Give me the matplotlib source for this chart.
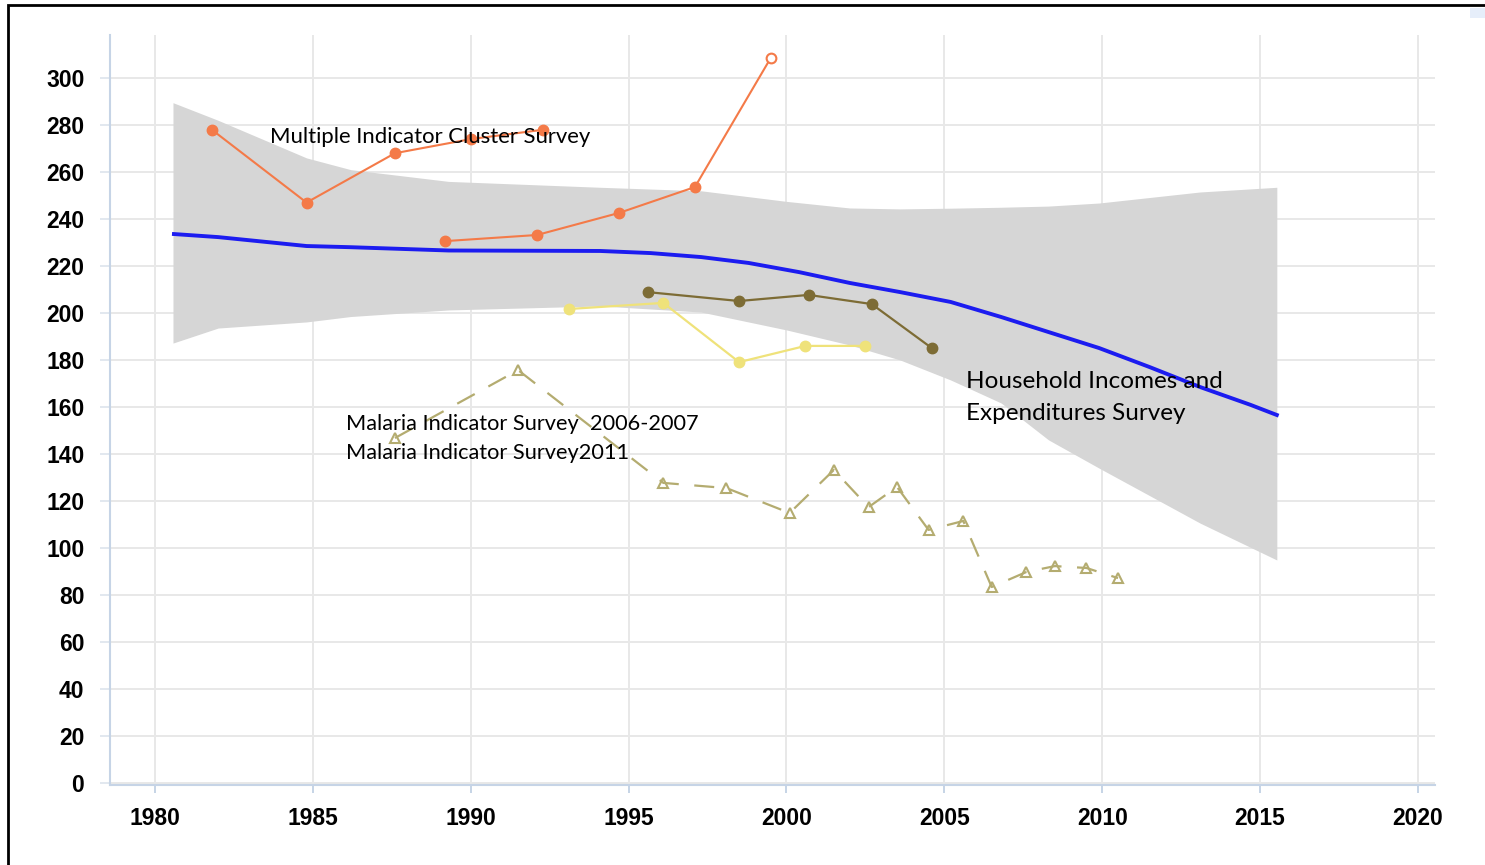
import numpy as np
import matplotlib
matplotlib.use('Agg')
import matplotlib.pyplot as plt
from matplotlib.patches import Rectangle

# ---- data ----
mics_a_years = [1981.8, 1984.8, 1987.6, 1990.0, 1992.3]
mics_a_vals = [278, 247, 268, 274, 278]
mics_b_years = [1989.2, 1992.1, 1994.7, 1997.1]
mics_b_vals = [230.6, 233.2, 242.6, 253.6]
mics_open_year = 1999.5
mics_open_val = 308.5

hies_years = [1995.6, 1998.5, 2000.7, 2002.7, 2004.6]
hies_vals = [208.9, 205.1, 207.7, 203.8, 185.1]

yellow_years = [1993.1, 1996.1, 1998.5, 2000.6, 2002.5]
yellow_vals = [201.7, 204.3, 179.1, 186.0, 186.0]

dash_years = [1987.6, 1991.5, 1996.1, 1998.1, 2000.1, 2001.5, 2002.6, 2003.5,
              2004.5, 2005.6, 2006.5, 2007.6, 2008.5, 2009.5, 2010.5]
dash_vals = [146.8, 175.7, 127.7, 125.5, 114.9, 133.2, 117.4, 126.0,
             107.7, 111.5, 83.4, 89.8, 92.3, 91.5, 87.2]

fit_years = [1980.6, 1982.0, 1984.8, 1986.2, 1989.3, 1994.1, 1995.7, 1997.3, 1998.8,
             2000.4, 2002.0, 2003.6, 2005.2, 2006.8, 2008.3, 2009.9, 2011.5, 2013.1,
             2014.7, 2015.53]
fit_vals = [233.6, 232.3, 228.5, 228.0, 226.6, 226.4, 225.5, 223.8, 221.3,
            217.4, 212.8, 208.9, 204.7, 198.3, 191.9, 185.1, 177.0, 168.5,
            160.9, 156.6]

band_years = [1980.57, 1982.0, 1984.8, 1986.2, 1989.3, 1994.1, 1997.3, 2000.0, 2002.0,
              2003.6, 2005.2, 2006.8, 2008.3, 2009.9, 2013.1, 2015.53]
band_upper = [289.5, 282, 266, 261, 256, 253.5, 252, 247.5, 244.7, 244.3, 244.6, 245,
              245.5, 246.8, 251.5, 253.5]
band_lower = [187.2, 193.6, 196.2, 198.5, 201.3, 203, 200.4, 192.8, 186.4, 180, 171.5,
              161.7, 146, 134, 110.6, 94.9]

x_ticks = [1980, 1985, 1990, 1995, 2000, 2005, 2010, 2015, 2020]
y_ticks = list(range(0, 301, 20))

# ---- figure ----
fig = plt.figure(figsize=(14.85, 8.65), dpi=100)
ax = fig.add_axes([110/1485, 80/865, 1325/1485, 750/865])

ax.fill_between(band_years, band_lower, band_upper, color='#d6d6d6', lw=0, zorder=1)
ax.plot(fit_years, fit_vals, color='#1c1cf0', lw=2.8, zorder=3)

orange = '#f47a48'
ax.plot(mics_a_years, mics_a_vals, color=orange, lw=1.5, marker='o', ms=7.5, zorder=4)
ax.plot(mics_b_years + [mics_open_year], mics_b_vals + [mics_open_val],
        color=orange, lw=1.5, zorder=4)
ax.plot(mics_b_years, mics_b_vals, color=orange, lw=0, marker='o', ms=7.5, zorder=5)
ax.plot([mics_open_year], [mics_open_val], color=orange, marker='o', ms=7,
        mfc='white', mew=1.5, zorder=5)

ax.plot(hies_years, hies_vals, color='#7d6c35', lw=1.6, marker='o', ms=7.5, zorder=4)
ax.plot(yellow_years, yellow_vals, color='#efe27a', lw=1.6, marker='o', ms=7.5, zorder=4)

ax.plot(dash_years, dash_vals, color='#b4ac70', lw=1.6, ls=(0, (9, 7)),
        marker='^', ms=7.5, mfc='none', mew=1.5, zorder=4)

# annotations
tfont = dict(family=['Lato', 'DejaVu Sans'], color='black', va='center', zorder=6)
ax.text(1983.64, 274.9, 'Multiple Indicator Cluster Survey', fontsize=15.9, **tfont)
ax.text(1986.05, 152.8, 'Malaria Indicator Survey  2006-2007', fontsize=15.7, **tfont)
ax.text(1986.05, 140.4, 'Malaria Indicator Survey2011', fontsize=15.7, **tfont)
ax.text(2005.68, 171.0, 'Household Incomes and', fontsize=17.5, **tfont)
ax.text(2005.68, 157.4, 'Expenditures Survey', fontsize=17.5, **tfont)

# axes styling
ax.set_xlim(1978.575, 2020.54)
ax.set_ylim(-0.85, 318.3)
ax.set_xticks(x_ticks)
ax.set_yticks(y_ticks)
ax.grid(True, color='#e8e8e8', lw=1.4, zorder=0)
ax.set_axisbelow(True)
for s in ['top', 'right']:
    ax.spines[s].set_visible(False)
for s in ['left', 'bottom']:
    ax.spines[s].set_color('#c6d4e6')
    ax.spines[s].set_linewidth(1.5)
ax.tick_params(axis='y', length=7.5, width=1.4, color='#e2e8ef', pad=11)
ax.tick_params(axis='x', length=6, width=1.4, color='#c6d4e6', pad=10)
for lab in ax.get_xticklabels() + ax.get_yticklabels():
    lab.set_family(['Liberation Sans Narrow', 'Liberation Sans'])
    lab.set_fontweight('bold')
    lab.set_fontsize(16.5)

# outer frame and corner mark
fig.add_artist(Rectangle((8/1485, -0.02), 1.0, (860/865) + 0.02, transform=fig.transFigure,
                         fill=False, ec='black', lw=2))
fig.add_artist(Rectangle((1470/1485, (865-18)/865), 15/1485, 10/865, transform=fig.transFigure,
                         fc='#e6eefa', ec='none'))

fig.savefig('out.png', dpi=100)
